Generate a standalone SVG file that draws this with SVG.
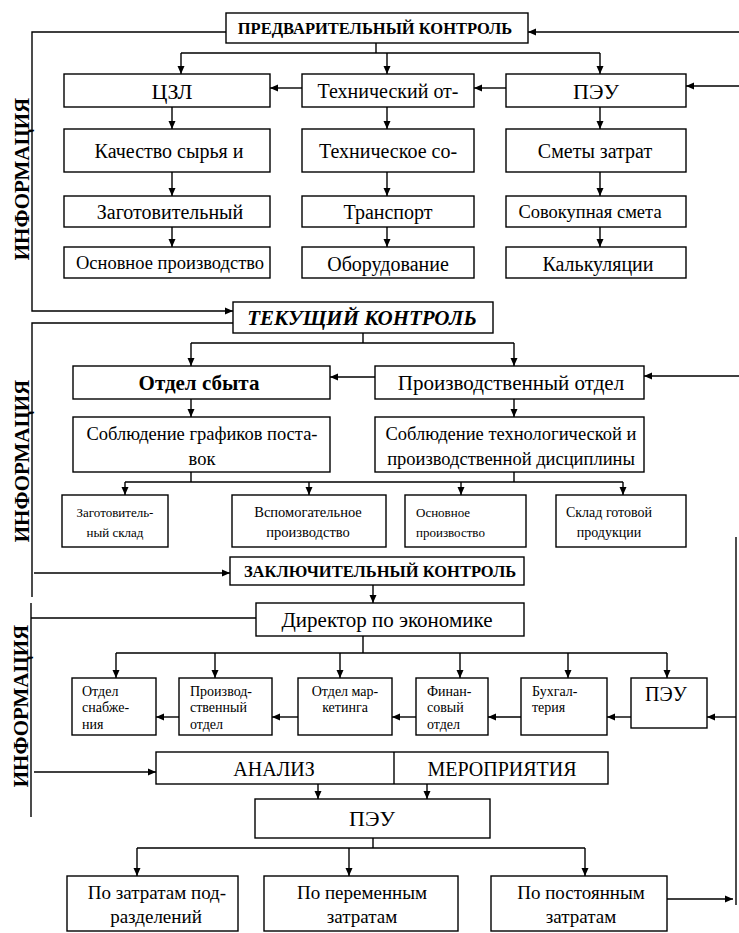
<svg xmlns="http://www.w3.org/2000/svg" width="739" height="933" viewBox="0 0 739 933">
  <style>
    .bx { fill: #fff; stroke: #000; stroke-width: 1.4; }
    .ln { fill: none; stroke: #000; stroke-width: 1.4; }
    .ar { fill: none; stroke: #000; stroke-width: 1.4; marker-end: url(#ah); }
    text { font-family: "Liberation Serif", "Times New Roman", serif; fill: #000; }
    .c { text-anchor: middle; }
    .t22 { font-size: 22px; }
    .t21 { font-size: 21px; }
    .t20 { font-size: 20px; }
    .t19 { font-size: 19px; }
    .t18 { font-size: 18.5px; }
    .t16 { font-size: 16.5px; }
    .t145 { font-size: 14.5px; }
    .t14 { font-size: 14px; }
    .t13 { font-size: 13px; }
    .hd { font-weight: bold; }
    .it { font-style: italic; }
    .info { font-size: 21px; font-weight: bold; text-anchor: middle; }
  </style>
  <defs>
    <marker id="ah" viewBox="0 0 8 8" refX="8" refY="4" markerWidth="8" markerHeight="8" orient="auto" markerUnits="userSpaceOnUse">
      <path d="M0,0.5 L8,4 L0,7.5 z" fill="#000"/>
    </marker>
  </defs>
  <rect width="739" height="933" fill="#fff"/>

  <!-- side labels -->
  <g id="labels">
    <text class="info" transform="translate(29,179) rotate(-90)">ИНФОРМАЦИЯ</text>
    <text class="info" transform="translate(29,461) rotate(-90)">ИНФОРМАЦИЯ</text>
    <text class="info" transform="translate(28,706) rotate(-90)">ИНФОРМАЦИЯ</text>
  </g>

  <!-- connectors -->
  <g id="connectors">
    <!-- preliminary control -->
    <path class="ar" d="M226,32 H32 V311 H233"/>
    <path class="ar" d="M739,32 H528"/>
    <path class="ln" d="M376,43 V53 M181,53 H600"/>
    <path class="ar" d="M181,53 V74"/>
    <path class="ar" d="M387,53 V74"/>
    <path class="ar" d="M600,53 V74"/>
    <path class="ar" d="M506,88 H474"/>
    <path class="ar" d="M302,88 H270"/>
    <path class="ar" d="M739,86 H686"/>
    <path class="ar" d="M172,107 V129"/>
    <path class="ar" d="M387,107 V129"/>
    <path class="ar" d="M600,107 V129"/>
    <path class="ar" d="M172,172 V196"/>
    <path class="ar" d="M387,172 V196"/>
    <path class="ar" d="M600,172 V196"/>
    <path class="ar" d="M172,227 V247"/>
    <path class="ar" d="M387,227 V247"/>
    <path class="ar" d="M600,227 V247"/>

    <!-- current control -->
    <path class="ln" d="M233,323 H32 V597"/>
    <path class="ln" d="M363,333 V343 M191,343 H514"/>
    <path class="ar" d="M191,343 V366"/>
    <path class="ar" d="M514,343 V366"/>
    <path class="ar" d="M375,377 H330"/>
    <path class="ar" d="M739,376 H644"/>
    <path class="ar" d="M191,399 V417"/>
    <path class="ar" d="M514,399 V417"/>
    <path class="ln" d="M191,472 V482 M514,472 V482 M125,482 H623"/>
    <path class="ar" d="M125,482 V495"/>
    <path class="ar" d="M309,482 V495"/>
    <path class="ar" d="M461,482 V495"/>
    <path class="ar" d="M623,482 V495"/>

    <!-- final control -->
    <path class="ar" d="M34,573 H230"/>
    <path class="ar" d="M373,585 V603"/>
    <path class="ln" d="M256,618 H31 M31,603 V817"/>
    <path class="ln" d="M363,636 V653 M116,653 H667"/>
    <path class="ar" d="M116,653 V678"/>
    <path class="ar" d="M215,653 V678"/>
    <path class="ar" d="M340,653 V678"/>
    <path class="ar" d="M460,653 V678"/>
    <path class="ar" d="M568,653 V678"/>
    <path class="ar" d="M667,653 V678"/>
    <path class="ar" d="M631,717 H607"/>
    <path class="ar" d="M521,717 H488"/>
    <path class="ar" d="M416,717 H392"/>
    <path class="ar" d="M298,717 H272"/>
    <path class="ar" d="M179,717 H156"/>
    <path class="ln" d="M736,537 V905"/>
    <path class="ar" d="M736,717 H707"/>
    <path class="ar" d="M34,772 H156"/>
    <path class="ar" d="M318,784 V799"/>
    <path class="ar" d="M427,784 V799"/>
    <path class="ln" d="M373,838 V848 M137,848 H585"/>
    <path class="ar" d="M137,848 V876"/>
    <path class="ar" d="M349,848 V876"/>
    <path class="ar" d="M585,848 V876"/>
    <path class="ar" d="M667,899 H733"/>
  </g>

  <!-- preliminary control block -->
  <g id="n-pred">
    <rect class="bx" x="226" y="13" width="302" height="30"/>
    <text class="c t16 hd" x="375" y="34">ПРЕДВАРИТЕЛЬНЫЙ КОНТРОЛЬ</text>
  </g>
  <g id="n-czl">
    <rect class="bx" x="64" y="74" width="206" height="33"/>
    <text class="c t22" x="172" y="99">ЦЗЛ</text>
  </g>
  <g id="n-tech">
    <rect class="bx" x="302" y="74" width="172" height="33"/>
    <text class="c t20" x="388" y="98">Технический от-</text>
  </g>
  <g id="n-peu1">
    <rect class="bx" x="506" y="74" width="180" height="33"/>
    <text class="c t22" x="596" y="99">ПЭУ</text>
  </g>
  <g id="n-kach">
    <rect class="bx" x="64" y="129" width="206" height="43"/>
    <text class="c t20" x="169" y="158">Качество сырья и</text>
  </g>
  <g id="n-techso">
    <rect class="bx" x="302" y="129" width="172" height="43"/>
    <text class="c t20" x="388" y="158">Техническое со-</text>
  </g>
  <g id="n-smety">
    <rect class="bx" x="506" y="129" width="180" height="43"/>
    <text class="c t20" x="595" y="158">Сметы затрат</text>
  </g>
  <g id="n-zag">
    <rect class="bx" x="64" y="196" width="206" height="31"/>
    <text class="c t20" x="170" y="219">Заготовительный</text>
  </g>
  <g id="n-trans">
    <rect class="bx" x="302" y="196" width="172" height="31"/>
    <text class="c t20" x="388" y="219">Транспорт</text>
  </g>
  <g id="n-sovok">
    <rect class="bx" x="506" y="196" width="180" height="31"/>
    <text class="c t18" x="590" y="218">Совокупная смета</text>
  </g>
  <g id="n-osn">
    <rect class="bx" x="64" y="247" width="206" height="31"/>
    <text class="c t18" x="170" y="269">Основное производство</text>
  </g>
  <g id="n-obor">
    <rect class="bx" x="302" y="247" width="172" height="31"/>
    <text class="c t20" x="388" y="271">Оборудование</text>
  </g>
  <g id="n-kalk">
    <rect class="bx" x="506" y="247" width="180" height="31"/>
    <text class="c t20" x="598" y="271">Калькуляции</text>
  </g>

  <!-- current control block -->
  <g id="n-tek">
    <rect class="bx" x="233" y="302" width="260" height="31"/>
    <text class="c t21 hd it" x="362" y="325">ТЕКУЩИЙ КОНТРОЛЬ</text>
  </g>
  <g id="n-sbyt">
    <rect class="bx" x="73" y="366" width="257" height="33"/>
    <text class="c t21 hd" x="199" y="390">Отдел сбыта</text>
  </g>
  <g id="n-proizv">
    <rect class="bx" x="375" y="366" width="269" height="33"/>
    <text class="c t21" x="511" y="390">Производственный отдел</text>
  </g>
  <g id="n-graf">
    <rect class="bx" x="73" y="417" width="257" height="55"/>
    <text class="c t18" x="202" y="440">Соблюдение графиков поста-</text>
    <text class="c t18" x="202" y="465">вок</text>
  </g>
  <g id="n-disc">
    <rect class="bx" x="375" y="417" width="269" height="55"/>
    <text class="c t18" x="511" y="440">Соблюдение технологической и</text>
    <text class="c t18" x="511" y="465">производственной дисциплины</text>
  </g>
  <g id="n-zsklad">
    <rect class="bx" x="62" y="495" width="106" height="52"/>
    <text class="c t13" x="115" y="517">Заготовитель-</text>
    <text class="c t13" x="115" y="537">ный склад</text>
  </g>
  <g id="n-vspom">
    <rect class="bx" x="232" y="495" width="154" height="52"/>
    <text class="c t145" x="308" y="517">Вспомогательное</text>
    <text class="c t145" x="308" y="537">производство</text>
  </g>
  <g id="n-osnpr">
    <rect class="bx" x="405" y="495" width="121" height="52"/>
    <text class="t13" x="416" y="517">Основное</text>
    <text class="t13" x="416" y="537">произвоство</text>
  </g>
  <g id="n-gotsklad">
    <rect class="bx" x="556" y="495" width="130" height="52"/>
    <text class="c t14" x="609" y="517">Склад готовой</text>
    <text class="c t14" x="609" y="537">продукции</text>
  </g>

  <!-- final control block -->
  <g id="n-zakl">
    <rect class="bx" x="230" y="557" width="294" height="28"/>
    <text class="c t16 hd" x="380" y="577">ЗАКЛЮЧИТЕЛЬНЫЙ КОНТРОЛЬ</text>
  </g>
  <g id="n-dir">
    <rect class="bx" x="256" y="603" width="268" height="33"/>
    <text class="c t21" x="387" y="627">Директор по экономике</text>
  </g>
  <g id="n-snab">
    <rect class="bx" x="72" y="678" width="84" height="57"/>
    <text class="t14" x="82" y="696">Отдел</text>
    <text class="t14" x="82" y="712">снабже-</text>
    <text class="t14" x="82" y="729">ния</text>
  </g>
  <g id="n-prod2">
    <rect class="bx" x="179" y="678" width="93" height="57"/>
    <text class="t14" x="190" y="696">Производ-</text>
    <text class="t14" x="190" y="712">ственный</text>
    <text class="t14" x="190" y="729">отдел</text>
  </g>
  <g id="n-mark">
    <rect class="bx" x="298" y="678" width="94" height="57"/>
    <text class="c t14" x="345" y="696">Отдел мар-</text>
    <text class="c t14" x="345" y="712">кетинга</text>
  </g>
  <g id="n-fin">
    <rect class="bx" x="416" y="678" width="72" height="57"/>
    <text class="t14" x="427" y="696">Финан-</text>
    <text class="t14" x="427" y="712">совый</text>
    <text class="t14" x="427" y="729">отдел</text>
  </g>
  <g id="n-buh">
    <rect class="bx" x="521" y="678" width="86" height="57"/>
    <text class="t14" x="532" y="696">Бухгал-</text>
    <text class="t14" x="532" y="712">терия</text>
  </g>
  <g id="n-peu2">
    <rect class="bx" x="631" y="678" width="76" height="50"/>
    <text class="c t20" x="666" y="701">ПЭУ</text>
  </g>
  <g id="n-anal">
    <rect class="bx" x="156" y="752" width="452" height="32"/>
    <path class="ln" d="M394,752 V784"/>
    <text class="c t20" x="274" y="776">АНАЛИЗ</text>
    <text class="c t20" x="502" y="776">МЕРОПРИЯТИЯ</text>
  </g>
  <g id="n-peu3">
    <rect class="bx" x="255" y="799" width="235" height="39"/>
    <text class="c t22" x="372" y="826">ПЭУ</text>
  </g>
  <g id="n-podr">
    <rect class="bx" x="67" y="876" width="171" height="55"/>
    <text class="c t19" x="157" y="899">По затратам под-</text>
    <text class="c t19" x="156" y="923">разделений</text>
  </g>
  <g id="n-perem">
    <rect class="bx" x="264" y="876" width="194" height="55"/>
    <text class="c t19" x="362" y="899">По переменным</text>
    <text class="c t19" x="362" y="923">затратам</text>
  </g>
  <g id="n-post">
    <rect class="bx" x="491" y="876" width="176" height="55"/>
    <text class="c t19" x="581" y="899">По постоянным</text>
    <text class="c t19" x="581" y="923">затратам</text>
  </g>
</svg>
